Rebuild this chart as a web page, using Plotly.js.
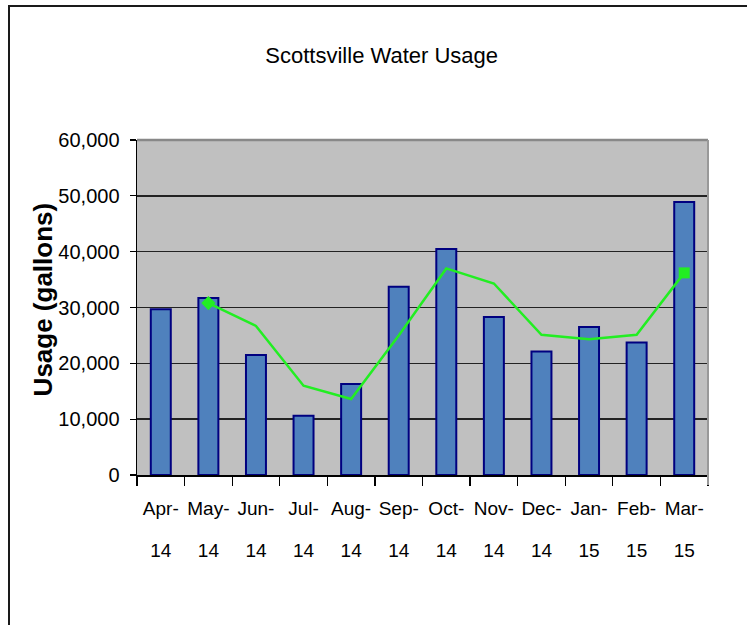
<!DOCTYPE html>
<html>
<head>
<meta charset="utf-8">
<script src="https://cdn.plot.ly/plotly-3.0.1.min.js"></script>
<style>
  body { margin: 0; background: #fff; }
  #chart { position: absolute; left: 0; top: 0; width: 747px; height: 625px; }
  #frame { position: absolute; left: 8px; top: 5px; width: 760px; height: 700px;
           border-left: 2px solid #1a1a1a; border-top: 2px solid #1a1a1a; pointer-events: none; }
</style>
</head>
<body>
<div id="chart"></div>
<div id="frame"></div>
<script>
// ---- data ----
const months = ["Apr-14","May-14","Jun-14","Jul-14","Aug-14","Sep-14","Oct-14","Nov-14","Dec-14","Jan-15","Feb-15","Mar-15"];
const monthLabels = ["Apr-","May-","Jun-","Jul-","Aug-","Sep-","Oct-","Nov-","Dec-","Jan-","Feb-","Mar-"];
const yearLabels = ["14","14","14","14","14","14","14","14","14","15","15","15"];
const usage = [29700, 31700, 21500, 10600, 16300, 33700, 40500, 28300, 22100, 26500, 23750, 48900];
const trendMonths = ["May-14","Jun-14","Jul-14","Aug-14","Sep-14","Oct-14","Nov-14","Dec-14","Jan-15","Feb-15","Mar-15"];
const trendValues = [30800, 26700, 16000, 13600, 25000, 37000, 34300, 25100, 24300, 25100, 36200];
const yTicks = [0, 10000, 20000, 30000, 40000, 50000, 60000];
const yTitle = "Usage (gallons)";

const FONT = "'Liberation Sans', Arial, sans-serif";
const idx = months.map((m, i) => i);

const bars = {
  type: "bar", x: months, y: usage, width: 0.42,
  marker: { color: "#4F81BD", line: { color: "#000080", width: 2 } },
  hoverinfo: "x+y", showlegend: false
};
const trendSymbols = trendValues.map((v, i) => i === 0 ? "diamond" : (i === trendValues.length - 1 ? "square" : "circle"));
const trendSizes = trendValues.map((v, i) => (i === 0 || i === trendValues.length - 1) ? 11 : 0);
const trend = {
  type: "scatter", mode: "lines+markers", x: trendMonths, y: trendValues,
  line: { color: "#22EE22", width: 2.5 },
  marker: { color: "#22EE22", symbol: trendSymbols, size: trendSizes, opacity: 1, line: { width: 0 } },
  showlegend: false
};
// dummy trace to carry the second x axis (year row of tick labels)
const yearAxisCarrier = {
  type: "scatter", mode: "markers", x: idx, y: usage.map(() => null), xaxis: "x2",
  showlegend: false, hoverinfo: "skip"
};

const layout = {
  width: 747, height: 625,
  margin: { l: 137, r: 39, t: 140, b: 150 },
  paper_bgcolor: "#ffffff", plot_bgcolor: "#C0C0C0",
  font: { family: FONT, color: "#000" },
  title: { text: "Scottsville Water Usage", font: { family: FONT, size: 22, color: "#000" },
           x: 0.511, xref: "container", y: 0.912, yref: "container", xanchor: "center", yanchor: "middle" },
  xaxis: {
    type: "category", categoryorder: "array", categoryarray: months,
    tickmode: "array", tickvals: months, ticktext: monthLabels, tickangle: 0,
    tickfont: { family: FONT, size: 19, color: "#000" },
    ticks: "outside", tickson: "boundaries", ticklen: 9, tickwidth: 1.2, tickcolor: "#000",
    showline: true, linecolor: "#000", linewidth: 1.5, showgrid: false, zeroline: false,
    ticklabelstandoff: 16,
    range: [-0.5, 11.5], fixedrange: true
  },
  xaxis2: {
    overlaying: "x", anchor: "y", side: "bottom", type: "linear", range: [-0.5, 11.5],
    tickmode: "array", tickvals: idx, ticktext: yearLabels, tickangle: 0,
    tickfont: { family: FONT, size: 19, color: "#000" },
    ticks: "", showline: false, showgrid: false, zeroline: false,
    ticklabelstandoff: 62, fixedrange: true
  },
  yaxis: {
    range: [0, 60000], tickmode: "array", tickvals: yTicks, tickformat: ",d",
    tickfont: { family: FONT, size: 20, color: "#000" },
    ticks: "outside", ticklen: 6, tickwidth: 1.2, tickcolor: "#000",
    showline: true, linecolor: "#000", linewidth: 1.5,
    showgrid: true, gridcolor: "#222", gridwidth: 1.5, zeroline: false,
    ticklabelstandoff: 6,
    fixedrange: true
  },
  annotations: [
    { text: "<b>" + yTitle + "</b>", textangle: -90, xref: "paper", yref: "paper",
      x: -0.163, y: 0.524, xanchor: "center", yanchor: "middle", showarrow: false,
      font: { family: FONT, size: 26, color: "#000" } }
  ],
  shapes: [
    { type: "line", xref: "paper", yref: "paper", x0: 0, x1: 1, y0: 1, y1: 1, line: { color: "#888", width: 2.5 } },
    { type: "line", xref: "paper", yref: "paper", x0: 1, x1: 1, y0: -0.03, y1: 1, line: { color: "#999", width: 2 } }
  ]
};

Plotly.newPlot("chart", [bars, trend, yearAxisCarrier], layout, { displayModeBar: false, staticPlot: true });
</script>
</body>
</html>
